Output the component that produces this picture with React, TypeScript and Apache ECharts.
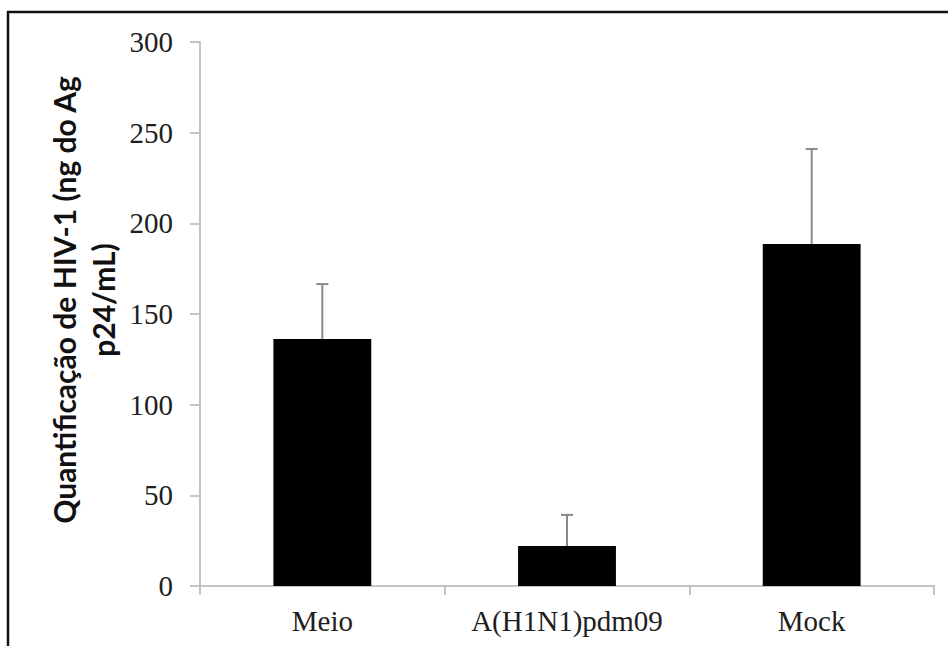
import React, { useEffect, useRef } from "react";
import * as echarts from "echarts";

const categories = ["Meio", "A(H1N1)pdm09", "Mock"];
const means = [136.2, 22.1, 188.6];
const errors = [30.3, 17.1, 52.4];
const yTicks = { min: 0, max: 300, interval: 50 };
const yName = ["Quantificação de HIV-1 (ng do Ag", "p24/mL)"];

export default function App() {
  const ref = useRef<HTMLDivElement>(null);
  useEffect(() => {
    if (!ref.current) return;
    const chart = echarts.init(ref.current, undefined, { renderer: "svg" });
    const axisColor = "#c4c4c4";
    const errData = means.map((m, i) => [i, m, errors[i]]);
    chart.setOption({
      animation: false,
      backgroundColor: "#ffffff",
      grid: { left: 200, right: 14, top: 42, bottom: 60, containLabel: false },
      xAxis: {
        type: "category",
        data: categories,
        boundaryGap: true,
        axisLine: { show: true, lineStyle: { color: axisColor, width: 2 } },
        axisTick: { show: true, length: 9, interval: 0, lineStyle: { color: axisColor, width: 2 } },
        axisLabel: {
          interval: 0,
          margin: 20,
          color: "#1e1e1e",
          fontFamily: "Liberation Serif",
          fontSize: 29,
        },
        splitLine: { show: false },
      },
      yAxis: {
        type: "value",
        min: yTicks.min,
        max: yTicks.max,
        interval: yTicks.interval,
        axisLine: { show: true, lineStyle: { color: axisColor, width: 2 } },
        axisTick: { show: true, length: 10, lineStyle: { color: axisColor, width: 2 } },
        axisLabel: {
          margin: 27,
          color: "#1e1e1e",
          fontFamily: "Liberation Serif",
          fontSize: 29,
        },
        splitLine: { show: false },
      },
      series: [
        {
          type: "bar",
          data: means,
          barCategoryGap: "60%",
          itemStyle: { color: "#000000" },
        },
        {
          type: "custom",
          data: errData,
          z: 10,
          renderItem: (params: any, api: any) => {
            const x = api.value(0);
            const m = api.value(1);
            const e = api.value(2);
            const p0 = api.coord([x, m]);
            const p1 = api.coord([x, m + e]);
            const half = 6;
            const style = { stroke: "#8a8a8a", lineWidth: 2 };
            return {
              type: "group",
              children: [
                { type: "line", shape: { x1: p0[0], y1: p0[1], x2: p1[0], y2: p1[1] }, style },
                { type: "line", shape: { x1: p1[0] - half, y1: p1[1], x2: p1[0] + half, y2: p1[1] }, style },
              ],
            };
          },
        },
      ],
      graphic: [
        {
          type: "text",
          x: 83,
          y: 300,
          rotation: Math.PI / 2,
          style: {
            text: yName.join("\n"),
            fontFamily: "Lato",
            fontWeight: "bold",
            fontSize: 30,
            lineHeight: 39,
            fill: "#111111",
            align: "center",
            verticalAlign: "middle",
          },
        },
        { type: "line", shape: { x1: 7, y1: 12, x2: 948, y2: 12 }, style: { stroke: "#111111", lineWidth: 2.5 } },
        { type: "line", shape: { x1: 8, y1: 11, x2: 8, y2: 646 }, style: { stroke: "#111111", lineWidth: 2.5 } },
      ],
    });
    return () => chart.dispose();
  }, []);
  return (
    <div
      ref={ref}
      style={{ position: "absolute", left: 0, top: 0, width: 948, height: 646 }}
    />
  );
}
